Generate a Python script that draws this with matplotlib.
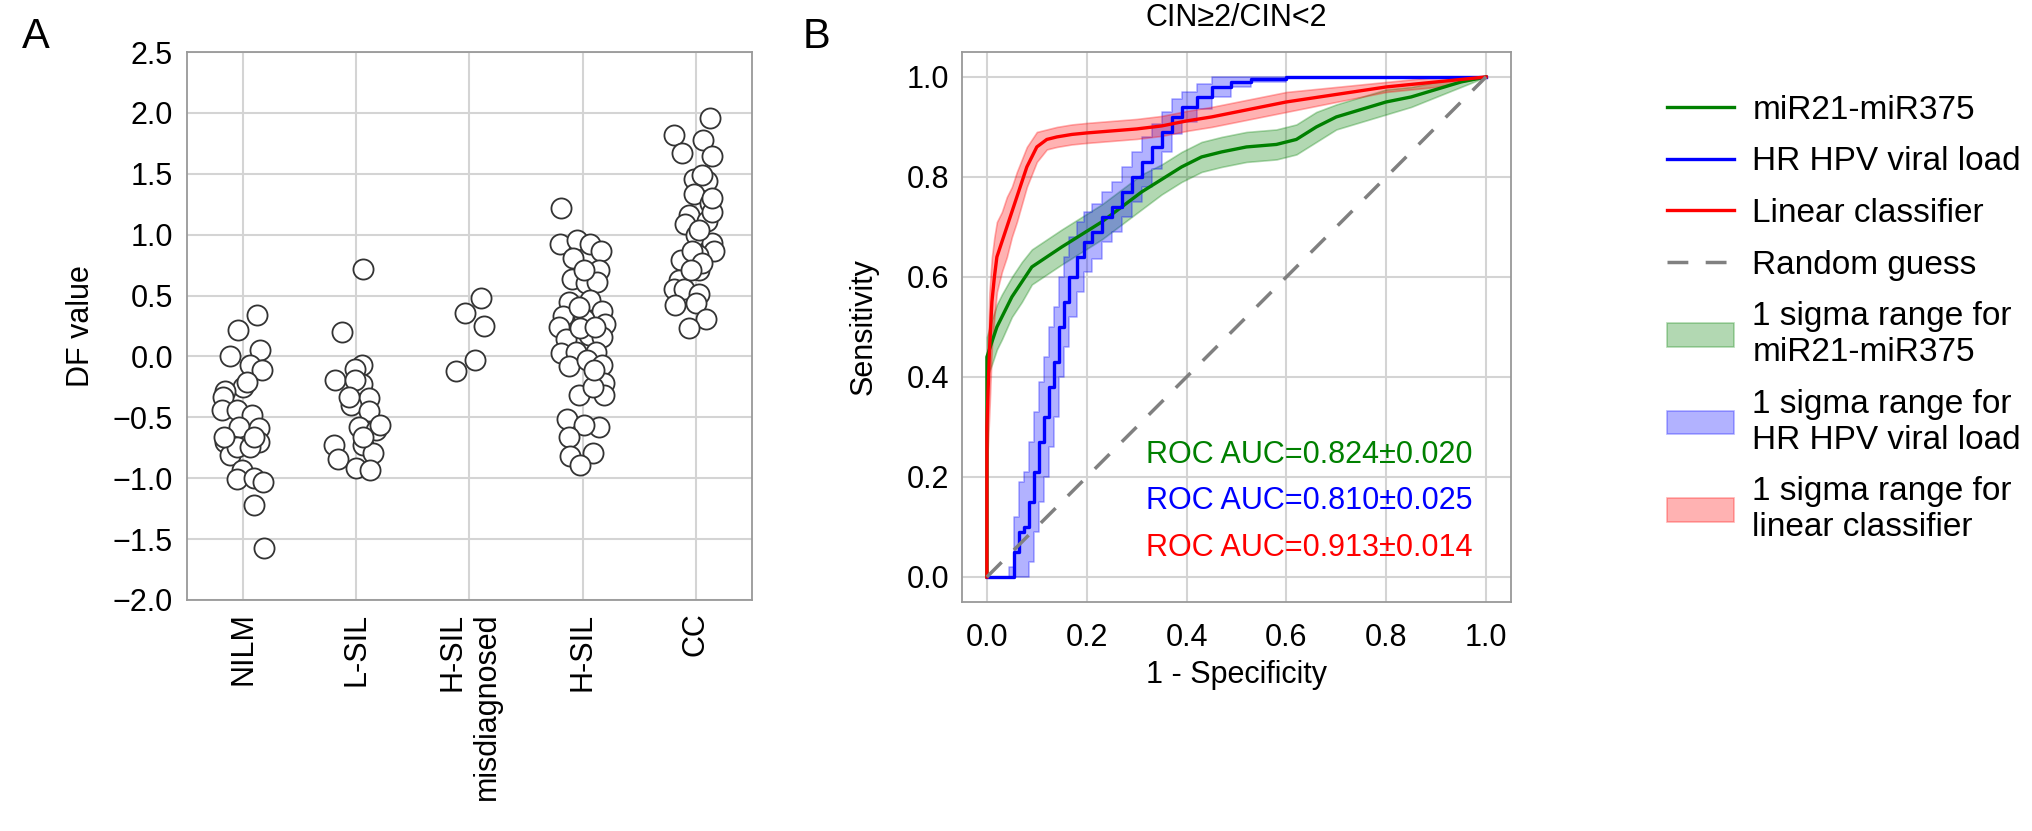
import numpy as np
import matplotlib.pyplot as plt
from matplotlib.lines import Line2D
from matplotlib.patches import Patch

plt.rcParams['font.family'] = ['Liberation Sans', 'DejaVu Sans']
plt.rcParams['font.size'] = 22

# ---- panel A data: DF values per group, with horizontal jitter
groups = ['NILM', 'L-SIL', 'H-SIL\nmisdiagnosed', 'H-SIL', 'CC']

nilm_y = [0.34, 0.22, 0.0, 0.05, -0.07, -0.11, -0.25, -0.28, -0.33, -0.44, -0.44,
          -0.48, -0.58, -0.59, -0.70, -0.70, -0.81, -0.74, -0.74, -0.93, -1.01,
          -1.0, -1.03, -1.22, -1.57, -0.21, -0.66, -0.66]
nilm_dx = [0.12, -0.05, -0.12, 0.15, 0.06, 0.16, 0.0, -0.16, -0.18, -0.19, -0.06,
           0.08, -0.04, 0.14, 0.14, -0.16, -0.12, -0.06, 0.06, -0.01, -0.06,
           0.09, 0.17, 0.09, 0.18, 0.03, 0.09, -0.17]

lsil_y = [0.72, 0.20, -0.07, -0.10, -0.19, -0.23, -0.19, -0.34, -0.40, -0.45, -0.58,
          -0.60, -0.56, -0.73, -0.84, -0.73, -0.79, -0.92, -0.93, -0.33, -0.66]
lsil_dx = [0.06, -0.13, 0.05, -0.01, -0.19, 0.05, -0.01, 0.11, -0.05, 0.11, 0.02,
           0.17, 0.21, -0.20, -0.16, 0.06, 0.15, 0.0, 0.12, -0.07, 0.06]

mis_y = [0.48, 0.36, 0.25, -0.03, -0.12]
mis_dx = [0.10, -0.04, 0.13, 0.05, -0.12]

hsil_y = [1.22, 0.92, 0.96, 0.92, 0.87, 0.81, 0.71, 0.64, 0.60, 0.61, 0.45, 0.46,
          0.37, 0.33, 0.31, 0.24, 0.27, 0.14, 0.18, 0.16, 0.03, 0.04, 0.04, -0.08,
          -0.03, -0.07, -0.32, -0.22, -0.32, -0.25, -0.51, -0.58, -0.56, -0.66,
          -0.82, -0.79, -0.89, 0.41, 0.23, 0.24, 0.71, -0.11]
hsil_dx = [-0.19, -0.20, -0.05, 0.07, 0.16, -0.08, 0.15, -0.09, 0.03, 0.13, -0.12,
           0.07, 0.17, -0.17, 0.01, -0.21, 0.20, -0.15, 0.06, 0.17, -0.19, -0.06,
           0.12, -0.12, 0.04, 0.17, -0.03, 0.19, 0.19, 0.09, -0.14, 0.15, 0.01,
           -0.12, -0.11, 0.09, -0.02, -0.03, -0.02, 0.11, 0.01, 0.10]

cc_y = [1.96, 1.82, 1.78, 1.67, 1.65, 1.46, 1.44, 1.33, 1.26, 1.16, 1.09, 1.11,
        1.19, 1.0, 0.93, 0.87, 0.79, 0.83, 0.71, 0.63, 0.55, 0.55, 0.51, 0.42,
        0.44, 0.31, 0.23, 1.49, 1.30, 1.04, 0.87, 0.77, 0.71]
cc_dx = [0.13, -0.19, 0.07, -0.12, 0.15, -0.01, 0.10, -0.01, 0.13, -0.06, -0.09,
         0.10, 0.15, 0.0, 0.15, 0.16, -0.13, 0.02, 0.03, -0.15, -0.19, -0.10,
         0.03, -0.18, 0.0, 0.09, -0.06, 0.06, 0.15, 0.03, -0.03, 0.06, -0.04]

group_y = [nilm_y, lsil_y, mis_y, hsil_y, cc_y]
group_dx = [nilm_dx, lsil_dx, mis_dx, hsil_dx, cc_dx]

# ---- panel B data: ROC curves (1 - specificity, sensitivity) and 1 sigma widths
green_x = [0, 0.0, 0.01, 0.02, 0.03, 0.05, 0.07, 0.09, 0.12, 0.15, 0.19, 0.23, 0.27,
           0.31, 0.35, 0.39, 0.43, 0.47, 0.52, 0.58, 0.62, 0.66, 0.7, 0.75, 0.8,
           0.85, 0.9, 0.95, 1.0]
green_y = [0, 0.44, 0.47, 0.50, 0.52, 0.56, 0.59, 0.62, 0.64, 0.66, 0.685, 0.71,
           0.74, 0.77, 0.795, 0.82, 0.84, 0.85, 0.86, 0.865, 0.875, 0.90, 0.92,
           0.935, 0.95, 0.96, 0.975, 0.99, 1.0]
green_s = [0.0, 0.04, 0.045, 0.045, 0.045, 0.04, 0.04, 0.035, 0.035, 0.035, 0.035,
           0.035, 0.035, 0.035, 0.03, 0.03, 0.03, 0.03, 0.03, 0.03, 0.03, 0.03,
           0.025, 0.025, 0.025, 0.02, 0.015, 0.01, 0.0]

blue_x = [0, 0.045, 0.055, 0.065, 0.075, 0.085, 0.095, 0.105, 0.115, 0.125, 0.135,
          0.145, 0.155, 0.165, 0.18, 0.195, 0.21, 0.23, 0.25, 0.27, 0.29, 0.31,
          0.33, 0.35, 0.37, 0.39, 0.42, 0.45, 0.49, 0.53, 0.6, 0.7, 1.0]
blue_y = [0, 0.0, 0.05, 0.09, 0.10, 0.15, 0.21, 0.27, 0.32, 0.38, 0.43, 0.50, 0.55,
          0.60, 0.64, 0.67, 0.69, 0.72, 0.74, 0.77, 0.80, 0.83, 0.86, 0.89, 0.92,
          0.94, 0.96, 0.98, 0.99, 0.995, 1.0, 1.0, 1.0]
blue_s = [0.0, 0.02, 0.07, 0.10, 0.11, 0.12, 0.12, 0.12, 0.12, 0.12, 0.11, 0.10,
          0.09, 0.08, 0.07, 0.06, 0.055, 0.05, 0.05, 0.05, 0.05, 0.05, 0.045, 0.04,
          0.035, 0.03, 0.025, 0.02, 0.01, 0.005, 0.0, 0.0, 0.0]

red_x = [0, 0.0, 0.005, 0.01, 0.015, 0.02, 0.03, 0.04, 0.05, 0.06, 0.07, 0.08,
         0.09, 0.10, 0.12, 0.14, 0.17, 0.2, 0.25, 0.3, 0.35, 0.4, 0.45, 0.5, 0.55,
         0.6, 0.7, 0.8, 0.9, 1.0]
red_y = [0, 0.30, 0.45, 0.55, 0.60, 0.64, 0.67, 0.70, 0.73, 0.76, 0.79, 0.82, 0.84,
         0.86, 0.875, 0.88, 0.885, 0.888, 0.892, 0.896, 0.902, 0.912, 0.92, 0.93,
         0.94, 0.95, 0.965, 0.98, 0.99, 1.0]
red_s = [0.0, 0.08, 0.12, 0.09, 0.08, 0.07, 0.06, 0.06, 0.05, 0.05, 0.045, 0.04,
         0.035, 0.03, 0.02, 0.02, 0.02, 0.02, 0.02, 0.02, 0.02, 0.02, 0.02, 0.02,
         0.02, 0.02, 0.015, 0.01, 0.01, 0.0]

auc_labels = ['ROC AUC=0.824\u00b10.020', 'ROC AUC=0.810\u00b10.025',
              'ROC AUC=0.913\u00b10.014']
curve_names = ['miR21-miR375', 'HR HPV viral load', 'Linear classifier']
band_names = ['1 sigma range for\nmiR21-miR375', '1 sigma range for\nHR HPV viral load',
              '1 sigma range for\nlinear classifier']
colors = ['green', 'blue', 'red']
steps = ['default', 'steps-post', 'default']

fig = plt.figure(figsize=(20.32, 8.31), dpi=100)

grid_kw = dict(color='#d4d4d4', lw=1.5)

# ---------------- panel A
axA = fig.add_axes([0.0920, 0.2780, 0.2781, 0.6594])
axA.set_axisbelow(True)
for i, (ys, dxs) in enumerate(zip(group_y, group_dx)):
    xs = i + np.array(dxs)
    axA.scatter(xs, ys, s=210, facecolor='white', edgecolor='#333333',
                linewidth=1.3, zorder=3)
axA.set_xlim(-0.5, 4.5)
axA.set_ylim(-2.0, 2.5)
axA.set_yticks(np.arange(-2.0, 2.51, 0.5))
axA.set_xticks(range(5))
axA.set_xticklabels(groups, rotation=90, multialignment='right')
axA.set_ylabel('DF value', labelpad=12)
axA.grid(True, **grid_kw)
axA.tick_params(length=0)
axA.tick_params(axis='y', pad=10)
axA.tick_params(axis='x', pad=9)
for sp in axA.spines.values():
    sp.set_color('#999999')
    sp.set_linewidth(1.3)

# ---------------- panel B
axB = fig.add_axes([0.4734, 0.2756, 0.2702, 0.6619])
axB.set_axisbelow(True)
curves = [(green_x, green_y, green_s), (blue_x, blue_y, blue_s), (red_x, red_y, red_s)]
for (cx, cy, cs), c, ds in zip(curves, colors, steps):
    cx = np.array(cx)
    cy = np.array(cy)
    cs = np.array(cs)
    st = 'post' if ds == 'steps-post' else None
    axB.fill_between(cx, np.clip(cy - cs, 0, 1), np.clip(cy + cs, 0, 1),
                     step=st, color=c, alpha=0.3, lw=1.2)
    axB.plot(cx, cy, color=c, lw=2.4, drawstyle=ds)
axB.plot([0, 1], [0, 1], color='gray', lw=2.5, ls=(0, (6, 5)))
for j, (lab, c) in enumerate(zip(auc_labels, colors)):
    axB.text(0.972, 0.244 - 0.093 * j, lab, color=c, ha='right', va='center')
axB.set_xlim(-0.05, 1.05)
axB.set_ylim(-0.05, 1.05)
axB.set_xticks(np.arange(0, 1.01, 0.2))
axB.set_yticks(np.arange(0, 1.01, 0.2))
axB.set_xlabel('1 - Specificity', labelpad=5)
axB.set_ylabel('Sensitivity', labelpad=20)
axB.set_title('CIN\u22652/CIN<2', fontsize=22, pad=19)
axB.grid(True, **grid_kw)
axB.tick_params(length=0)
axB.tick_params(axis='y', pad=9)
axB.tick_params(axis='x', pad=15)
for sp in axB.spines.values():
    sp.set_color('#999999')
    sp.set_linewidth(1.3)

# legend
handles = [Line2D([], [], color=c, lw=2.4) for c in colors]
handles.append(Line2D([], [], color='gray', lw=2.5, ls=(0, (6, 5))))
handles += [Patch(facecolor=c, edgecolor=c, alpha=0.3, lw=1.2) for c in colors]
labels = curve_names + ['Random guess'] + band_names
fig.legend(handles, labels, loc='upper left', bbox_to_anchor=(0.8205, 0.886),
           frameon=False, borderpad=0, borderaxespad=0, handlelength=2.0,
           handletextpad=0.55, labelspacing=0.62, fontsize=24)

fig.text(0.011, 0.955, 'A', fontsize=30, ha='left', va='center')
fig.text(0.402, 0.955, 'B', fontsize=30, ha='center', va='center')

plt.savefig('out.png', dpi=100)
